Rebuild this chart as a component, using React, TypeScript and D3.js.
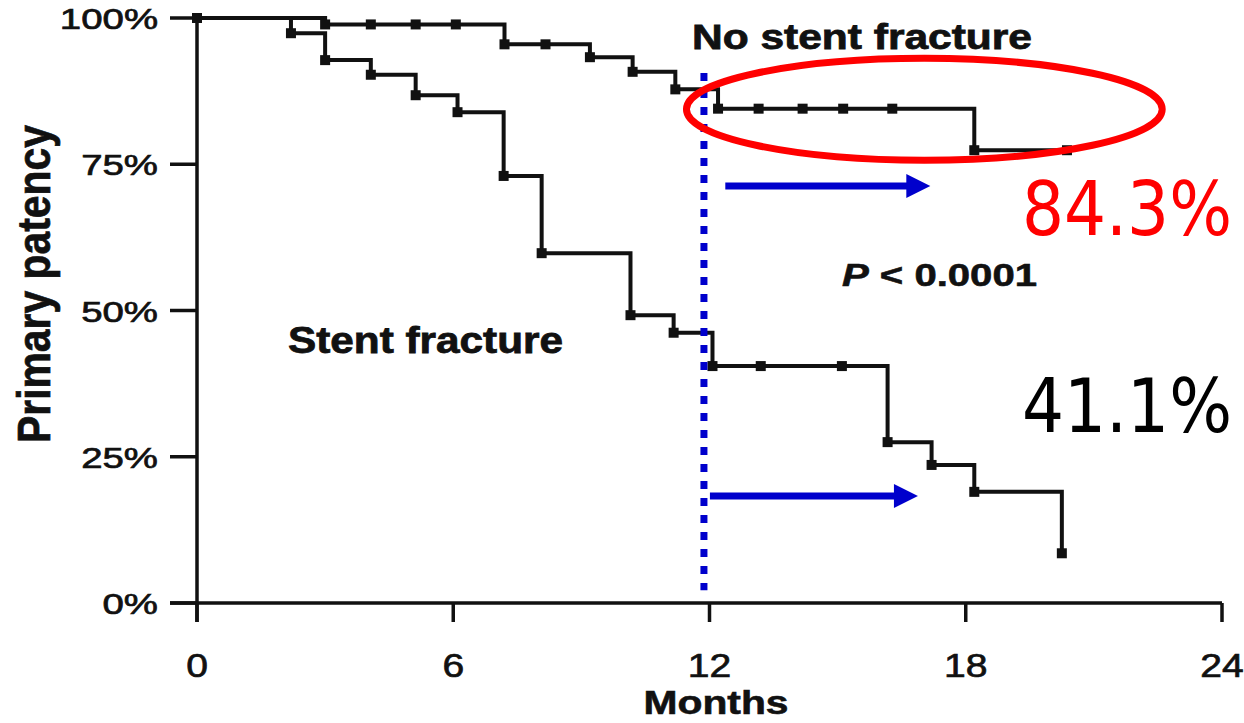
import React from 'react'
import * as d3 from 'd3'

const W = 1244
const H = 723

// Kaplan-Meier steps (months, % patent)
const noFxTimes = [0, 3.0, 7.2, 9.2, 10.2, 11.2, 12.2, 18.2]
const noFxSurv = [100, 98.9, 95.5, 93.3, 90.8, 87.8, 84.5, 77.4]
const noFxCensor = [4.07, 5.12, 6.06, 8.16, 13.15, 14.18, 15.13, 16.28, 20.37]
const noFxEnd = 20.37

const fxTimes = [0, 2.2, 3.0, 4.07, 5.12, 6.1, 7.18, 8.07, 10.15, 11.16, 12.07, 16.17, 17.2, 18.2, 20.25]
const fxSurv = [100, 97.4, 92.8, 90.3, 86.8, 83.9, 73.0, 59.8, 49.2, 46.2, 40.5, 27.5, 23.6, 19.0, 8.5]
const fxCensor = [13.2, 15.1]
const fxEnd = 20.25

const xTicks = [0, 6, 12, 18, 24]
const yTicks = [0, 25, 50, 75, 100]
const yTickLabels = ['0%', '25%', '50%', '75%', '100%']

// annotations (data units)
const cutoffMonth = 11.87
const cutoffRange = [90.6, 2.2]
const arrowUpper = { from: 12.37, to: 17.17, value: 71.3 }
const arrowLower = { from: 12.01, to: 16.88, value: 18.3 }
const ring = { cx: 17.03, cy: 84.4, rx: 5.57, ry: 8.7 }

const x = d3.scaleLinear().domain([0, 24]).range([197, 1222])
const y = d3.scaleLinear().domain([0, 100]).range([603, 18])

const stepAt = (times: number[], surv: number[], t: number) =>
  surv[Math.max(0, d3.bisectRight(times, t) - 1)]

const line = d3
  .line<[number, number]>()
  .x(d => x(d[0]))
  .y(d => y(d[1]))
  .curve(d3.curveStepAfter)

const curvePts = (times: number[], surv: number[], end: number): [number, number][] => [
  ...times.map((t, i) => [t, surv[i]] as [number, number]),
  [end, surv[surv.length - 1]],
]

const markerPts = (times: number[], surv: number[], censor: number[]): [number, number][] => [
  ...times.map((t, i) => [t, surv[i]] as [number, number]),
  ...censor.map(t => [t, stepAt(times, surv, t)] as [number, number]),
]

const FONT = 'Liberation Sans, Arial, Helvetica, sans-serif'
const INK = '#111'
const BLUE = '#0000cc'

const Arrow = ({ a }: { a: { from: number; to: number; value: number } }) => {
  const x0 = x(a.from)
  const x1 = x(a.to)
  const yy = y(a.value)
  return (
    <g>
      <line x1={x0} x2={x1 - 20} y1={yy} y2={yy} stroke={BLUE} strokeWidth={7} />
      <path d={`M${x1 - 24},${yy - 12} L${x1},${yy} L${x1 - 24},${yy + 12} Z`} fill={BLUE} />
    </g>
  )
}

export default function App() {
  const marks = [
    ...markerPts(noFxTimes, noFxSurv, noFxCensor),
    ...markerPts(fxTimes, fxSurv, fxCensor),
  ]
  return (
    <svg
      width={W}
      height={H}
      style={{ position: 'absolute', left: 0, top: 0, background: '#fff' }}
      fontFamily={FONT}
    >
      {/* axes */}
      <line x1={x(0)} x2={x(0)} y1={y(100)} y2={622} stroke={INK} strokeWidth={3.5} />
      <line x1={170} x2={x(24)} y1={y(0)} y2={y(0)} stroke={INK} strokeWidth={3.5} />
      {yTicks.map((t, i) => (
        <g key={t}>
          <line x1={170} x2={x(0)} y1={y(t)} y2={y(t)} stroke={INK} strokeWidth={3.5} />
          <text
            transform={`translate(158,${y(t) + 11}) scale(1.28,1)`}
            textAnchor="end"
            fontSize={30}
            fill={INK}
            stroke={INK}
            strokeWidth={0.7}
          >
            {yTickLabels[i]}
          </text>
        </g>
      ))}
      {xTicks.map(t => (
        <g key={t}>
          <line x1={x(t)} x2={x(t)} y1={y(0)} y2={622} stroke={INK} strokeWidth={3.5} />
          <text
            transform={`translate(${x(t)},677) scale(1.15,1)`}
            textAnchor="middle"
            fontSize={34}
            fill={INK}
            stroke={INK}
            strokeWidth={0.7}
          >
            {t}
          </text>
        </g>
      ))}
      <text
        transform="translate(716,714) scale(1.2,1)"
        textAnchor="middle"
        fontSize={34}
        fontWeight="bold"
        fill={INK}
        stroke={INK}
        strokeWidth={0.6}
      >
        Months
      </text>
      <text
        transform="translate(50,284) scale(1.2,1) rotate(-90)"
        textAnchor="middle"
        fontSize={39}
        fontWeight="bold"
        fill={INK}
        stroke={INK}
        strokeWidth={0.6}
        textLength={318}
        lengthAdjust="spacingAndGlyphs"
      >
        Primary patency
      </text>

      {/* survival curves */}
      <path d={line(curvePts(noFxTimes, noFxSurv, noFxEnd)) || ''} fill="none" stroke={INK} strokeWidth={4} />
      <path d={line(curvePts(fxTimes, fxSurv, fxEnd)) || ''} fill="none" stroke={INK} strokeWidth={4} />
      {marks.map((d, i) => (
        <rect key={i} x={x(d[0]) - 5} y={y(d[1]) - 5} width={10} height={10} fill={INK} />
      ))}

      {/* labels from the original figure */}
      <text x={692} y={49} fontSize={35} fontWeight="bold" fill={INK} stroke={INK} strokeWidth={0.8} textLength={340} lengthAdjust="spacingAndGlyphs">
        No stent fracture
      </text>
      <text x={288} y={353} fontSize={37} fontWeight="bold" fill={INK} stroke={INK} strokeWidth={0.8} textLength={275} lengthAdjust="spacingAndGlyphs">
        Stent fracture
      </text>
      <text x={842} y={286} fontSize={32} fontWeight="bold" fill={INK} stroke={INK} strokeWidth={0.6} textLength={195} lengthAdjust="spacingAndGlyphs">
        <tspan fontStyle="italic">P</tspan> {'< 0.0001'}
      </text>

      {/* overlaid annotations */}
      <line
        x1={x(cutoffMonth)}
        x2={x(cutoffMonth)}
        y1={y(cutoffRange[0])}
        y2={y(cutoffRange[1])}
        stroke={BLUE}
        strokeWidth={7}
        strokeDasharray="8 9"
      />
      <Arrow a={arrowUpper} />
      <Arrow a={arrowLower} />
      <ellipse
        cx={x(ring.cx)}
        cy={y(ring.cy)}
        rx={x(ring.rx) - x(0)}
        ry={y(0) - y(ring.ry)}
        fill="none"
        stroke="#ff0000"
        strokeWidth={7}
      />
      <text
        x={1022}
        y={235}
        fontFamily="DejaVu Sans Condensed, DejaVu Sans, sans-serif"
        fontSize={75}
        fill="#ff0000"
        textLength={210}
        lengthAdjust="spacingAndGlyphs"
      >
        84.3%
      </text>
      <text
        x={1022}
        y={432}
        fontFamily="DejaVu Sans Condensed, DejaVu Sans, sans-serif"
        fontSize={75}
        fill="#000"
        textLength={210}
        lengthAdjust="spacingAndGlyphs"
      >
        41.1%
      </text>
    </svg>
  )
}
